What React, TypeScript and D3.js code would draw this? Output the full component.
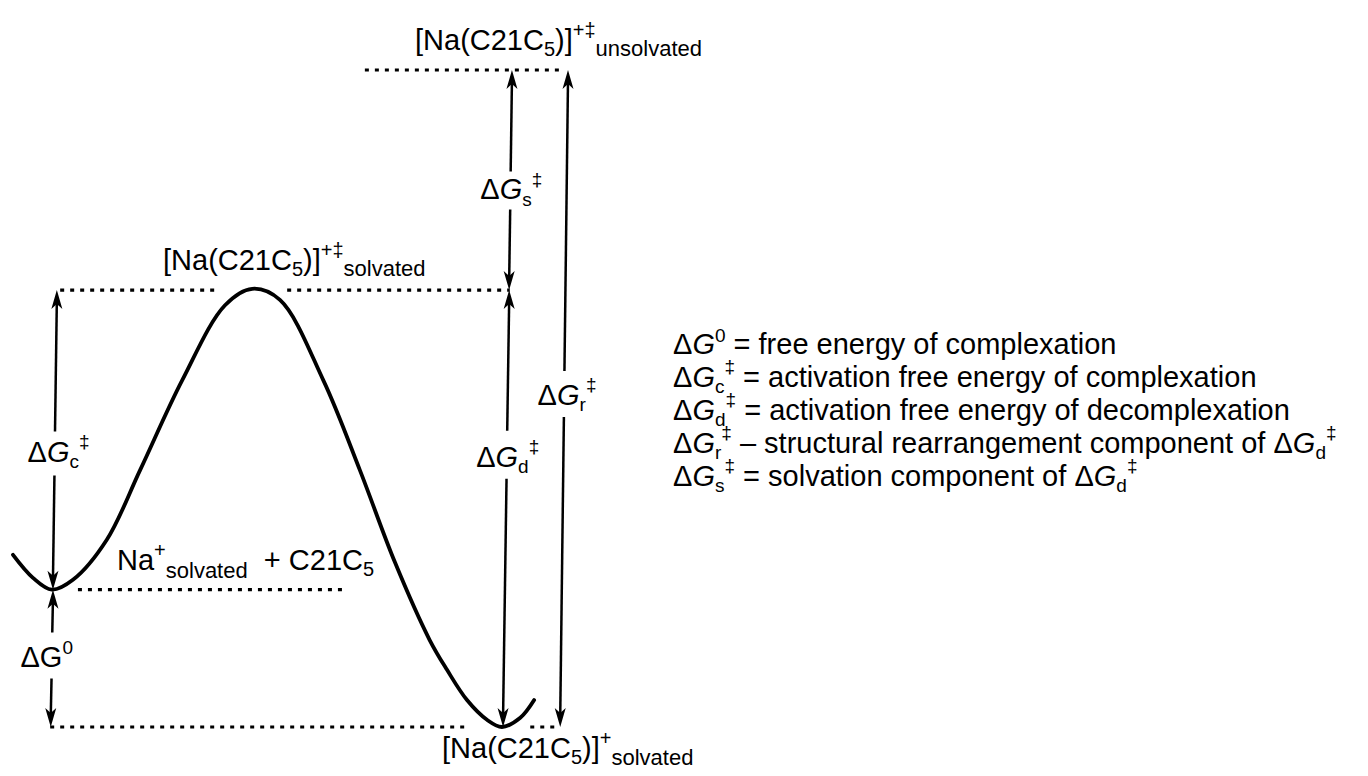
import React from 'react';
import * as d3 from 'd3';

const W = 1368;
const H = 776;
const FONT = '"Liberation Sans", Arial, Helvetica, sans-serif';

// free-energy profile: reaction coordinate (0-100) vs G (product = 0, unsolvated TS = 100)
const curveRC = [0, 3.6, 7.0, 10.8, 16.9, 22.9, 30.5, 38.2, 43.1, 48.1, 55.9, 62.5, 68.8, 75.1, 78.2, 81.8, 85.4, 88.1, 91.4, 93.9];
const curveG = [26.2, 22.7, 20.9, 22.4, 28.5, 39.1, 52.8, 64.2, 66.7, 65.0, 52.8, 39.1, 25.1, 13.2, 8.7, 4.1, 1.1, 0, 1.4, 4.1];

// energy levels
const levelG = { unsolvatedTS: 100, solvatedTS: 66.5, reactants: 20.9, product: 0 };

// dotted level lines: [rcFrom, rcTo, G]
const dottedFrom = [63.4, 8.5, 49.4, 11.7, 6.7, 93.2];
const dottedTo = [99.1, 36.9, 89.5, 60.2, 82.0, 98.6];
const dottedG = [levelG.unsolvatedTS, levelG.solvatedTS, levelG.solvatedTS, levelG.reactants, levelG.product, levelG.product];

// double-headed arrows
const arrowNames = ['c', '0', 's', 'd', 'r'];
const arrowRCTop = [7.9, 7.2, 89.9, 89.4, 100];
const arrowRCBottom = [7.2, 6.8, 89.4, 88.3, 98.6];
const arrowGTop = [levelG.solvatedTS, levelG.reactants, levelG.unsolvatedTS, levelG.solvatedTS, levelG.unsolvatedTS];
const arrowGBottom = [levelG.reactants, levelG.product, levelG.solvatedTS, levelG.product, levelG.product];
const arrowSub = ['c', '', 's', 'd', 'r'];
const arrowSup = ['‡', '0', '‡', '‡', '‡'];

// legend
const legendSub = ['', 'c', 'd', 'r', 's'];
const legendSup = ['0', '‡', '‡', '‡', '‡'];
const legendSep = ['=', '=', '=', '–', '='];
const legendText = [
  'free energy of complexation',
  'activation free energy of complexation',
  'activation free energy of decomplexation',
  'structural rearrangement component of',
  'solvation component of',
];
const legendTail = [false, false, false, true, true];

const x = d3.scaleLinear().domain([0, 100]).range([13, 568]);
const y = d3.scaleLinear().domain([0, 100]).range([727, 70]);

// ΔG with sub/superscripts, returns spans and the net baseline shift
function symSpans(key: string, sub: string, sup: string, size: number, italic = true): [React.ReactNode[], number] {
  const s = Math.round(size * 0.66);
  const out: React.ReactNode[] = [
    <tspan key={key + 'd'}>Δ</tspan>,
    <tspan key={key + 'g'} fontStyle={italic ? 'italic' : 'normal'}>G</tspan>,
  ];
  let shift = 0;
  if (sub) {
    out.push(<tspan key={key + 'b'} fontSize={s} dy={size * 0.22}>{sub}</tspan>);
    shift += size * 0.22;
  }
  const up = sub ? -size * 0.7 : -size * 0.42;
  out.push(<tspan key={key + 'p'} fontSize={s} dy={up}>{sup}</tspan>);
  shift += up;
  return [out, shift];
}

function ArrowLabel({ cx, cy, sub, sup, italic = true }: any) {
  const [spans] = symSpans('a', sub, sup, 29, italic);
  return (
    <text x={cx} y={cy} textAnchor="middle" fontSize={29}>{spans}</text>
  );
}

function head(xt: number, yt: number, dir: number) {
  // dir = -1 tip points up, 1 tip points down
  const L = 19, w = 5.5;
  return `M${xt},${yt} L${xt - w},${yt - dir * L} L${xt},${yt - dir * (L - 5)} L${xt + w},${yt - dir * L} Z`;
}

// label placement along each arrow (G of the label baseline, gap in px around it)
const arrowLabelG = [40.4, 9.2, 80.3, 39.6, 49.0];
const arrowLabelDX = [4, -5, 1, 1, 3];
const arrowGap = [[-30, 14], [-34, 12], [-28, 10], [-36, 12], [-34, 12]];

export default function App() {
  const line = d3.line<number>()
    .x((_, i) => x(curveRC[i]))
    .y((d) => y(d))
    .curve(d3.curveCatmullRom.alpha(0.5));

  return (
    <svg width={W} height={H} style={{ position: 'absolute', left: 0, top: 0, background: '#fff' }}
      fontFamily={FONT} fill="#000">
      {/* dotted level lines */}
      {dottedFrom.map((f, i) => (
        <line key={'dl' + i} x1={x(f)} x2={x(dottedTo[i])} y1={y(dottedG[i])} y2={y(dottedG[i])}
          stroke="#000" strokeWidth={3.2} strokeDasharray="4,6" />
      ))}

      {/* free energy curve */}
      <path d={line(curveG) || ''} fill="none" stroke="#000" strokeWidth={3.8} strokeLinecap="round" />

      {/* arrows */}
      {arrowNames.map((n, i) => {
        const xt = x(arrowRCTop[i]);
        const xb = x(arrowRCBottom[i]);
        const yt = y(arrowGTop[i]);
        const yb = y(arrowGBottom[i]);
        const ly = y(arrowLabelG[i]);
        const g0 = ly + arrowGap[i][0];
        const g1 = ly + arrowGap[i][1];
        const xAt = (yy: number) => xt + (xb - xt) * (yy - yt) / (yb - yt);
        return (
          <g key={'ar' + n}>
            <line x1={xt} y1={yt + 10} x2={xAt(g0)} y2={g0} stroke="#000" strokeWidth={2.5} />
            <line x1={xAt(g1)} y1={g1} x2={xb} y2={yb - 10} stroke="#000" strokeWidth={2.5} />
            <path d={head(xt, yt, -1)} />
            <path d={head(xb, yb, 1)} />
            <ArrowLabel cx={xAt(ly) + arrowLabelDX[i]} cy={ly} sub={arrowSub[i]} sup={arrowSup[i]} italic={n !== '0'} />
          </g>
        );
      })}

      {/* state labels */}
      <text x={415} y={50} fontSize={29}>
        [Na(C21C<tspan fontSize={20} dy={6}>5</tspan><tspan dy={-6}>)]</tspan>
        <tspan fontSize={20} dy={-13}>+‡</tspan><tspan fontSize={22} dy={19}>unsolvated</tspan>
      </text>
      <text x={163} y={270} fontSize={29}>
        [Na(C21C<tspan fontSize={20} dy={6}>5</tspan><tspan dy={-6}>)]</tspan>
        <tspan fontSize={20} dy={-13}>+‡</tspan><tspan fontSize={22} dy={19}>solvated</tspan>
      </text>
      <text x={117} y={570} fontSize={29}>
        Na<tspan fontSize={20} dy={-13}>+</tspan><tspan fontSize={22} dy={21}>solvated</tspan>
        <tspan dy={-8}>{'\u00a0 + C21C'}</tspan><tspan fontSize={20} dy={6}>5</tspan>
      </text>
      <text x={442} y={758} fontSize={29}>
        [Na(C21C<tspan fontSize={20} dy={6}>5</tspan><tspan dy={-6}>)]</tspan>
        <tspan fontSize={20} dy={-13}>+</tspan><tspan fontSize={22} dy={20}>solvated</tspan>
      </text>

      {/* legend */}
      {legendText.map((t, i) => {
        const [s1, sh1] = symSpans('l' + i, legendSub[i], legendSup[i], 29);
        const tail = legendTail[i] ? symSpans('t' + i, 'd', '‡', 29)[0] : [];
        return (
          <text key={'lg' + i} x={673} y={354 + i * 33} fontSize={29}>
            {s1}
            <tspan dy={-sh1}>{` ${legendSep[i]} ${t}${legendTail[i] ? ' ' : ''}`}</tspan>
            {tail}
          </text>
        );
      })}
    </svg>
  );
}
